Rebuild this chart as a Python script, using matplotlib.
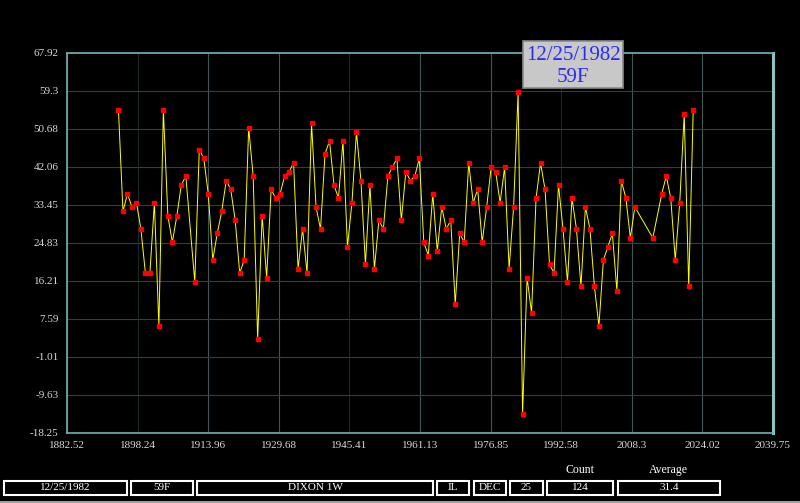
import numpy as np
import matplotlib
matplotlib.use("Agg")
import matplotlib.pyplot as plt
from matplotlib.patches import Rectangle

plt.rcParams['font.family'] = ['Liberation Serif', 'DejaVu Serif']

# Christmas day high temps, Dixon 1W IL
missing = (1909, 2009, 2010, 2011, 2013)
years = [y for y in range(1893, 2022) if y not in missing]
temps = [55, 32, 36, 33, 34, 28, 18, 18, 34, 6, 55, 31, 25, 31, 38, 40, 16, 46, 44, 36,
         21, 27, 32, 39, 37, 30, 18, 21, 51, 40,
         3, 31, 17, 37, 35, 36, 40, 41, 43, 19, 28, 18, 52, 33, 28, 45, 48, 38, 35, 48,
         24, 34, 50, 39, 20, 38, 19, 30, 28, 40, 42, 44,
         30, 41, 39, 40, 44, 25, 22, 36, 23, 33, 28, 30, 11, 27, 25, 43, 34, 37, 25, 33,
         42, 41, 34, 42, 19, 33, 59, -14, 17, 9, 35, 43, 37,
         20, 18, 38, 28, 16, 35, 28, 15, 33, 28, 15, 6, 21, 24, 27, 14, 39, 35, 26, 33,
         26, 36, 40, 35, 21, 34, 54, 15, 55]

xlabels = ['1882.52', '1898.24', '1913.96', '1929.68', '1945.41', '1961.13',
           '1976.85', '1992.58', '2008.3', '2024.02', '2039.75']
ylabels = ['-18.25', '-9.63', '-1.01', '7.59', '16.21', '24.83',
           '33.45', '42.06', '50.68', '59.3', '67.92']

# footer fields
fields = ['12/25/1982', '59F', 'DIXON 1W', 'IL', 'DEC', '25', '124', '31.4']
tip_date = '12/25/1982'
tip_temp = '59F'

# x position = year + fraction of year for Dec 25
xs = np.array(years) + 358 / 365.0

W, H = 800, 503
fig = plt.figure(figsize=(W / 100, H / 100), dpi=100, facecolor='black')
ax = fig.add_axes([67 / W, (H - 433) / H, 706 / W, 380 / H])
ax.set_facecolor('black')

ax.plot(xs, temps, color='#ffff00', lw=0.7, zorder=3)
ax.plot(xs, temps, ls='none', marker='s', ms=3.0, color='#ff0000', mec='#ff0000', zorder=4)

xmin, xmax = float(xlabels[0]), float(xlabels[-1])
ymin, ymax = float(ylabels[0]), float(ylabels[-1])
ax.set_xlim(xmin, xmax)
ax.set_ylim(ymin, ymax)
ax.set_xticks(np.linspace(xmin, xmax, len(xlabels)))
ax.set_xticklabels(xlabels)
ax.set_yticks(np.linspace(ymin, ymax, len(ylabels)))
ax.set_yticklabels(ylabels)
ax.tick_params(length=0, colors='#d8d8d8', labelsize=8)
ax.tick_params(axis='x', pad=6)
ax.tick_params(axis='y', pad=6)

ax.grid(True, color='#2c4242', lw=0.8)
for i, g in enumerate(ax.get_xgridlines()):
    g.set_color('#182828' if i % 3 == 1 else '#3e5858')
for s in ax.spines.values():
    s.set_color('#6fb0b0')
    s.set_linewidth(1.2)
ax.spines['right'].set_linewidth(2.2)
ax.spines['right'].set_color('#8cc4c4')

# tooltip box
fig.patches.append(Rectangle((523 / W, (H - 88) / H), 100 / W, 47 / H, transform=fig.transFigure,
                             facecolor='#c8c8c8', edgecolor='#8a8a8a', lw=1.2, zorder=5))
fig.text(573 / W, 1 - 55 / H, tip_date, color='#2a2aff', fontsize=15, ha='center', va='center', zorder=6)
fig.text(573 / W, 1 - 77 / H, tip_temp, color='#2a2aff', fontsize=15, ha='center', va='center', zorder=6)

# footer boxes
boxes = [(4, 127), (131, 193), (197, 433), (437, 469), (474, 506), (510, 543), (547, 613), (618, 720)]
for (x0, x1), txt in zip(boxes, fields):
    fig.patches.append(Rectangle((x0 / W, (H - 495) / H), (x1 - x0) / W, 14 / H, transform=fig.transFigure,
                                 facecolor='black', edgecolor='white', lw=1.5))
    fig.text((x0 + x1) / 2 / W, 1 - 488 / H, txt, color='white', fontsize=8, ha='center', va='center')
fig.text(580 / W, 1 - 470 / H, 'Count', color='white', fontsize=8.5, ha='center', va='center')
fig.text(668 / W, 1 - 470 / H, 'Average', color='white', fontsize=8.5, ha='center', va='center')
fig.patches.append(Rectangle((0, 0), 1, 2.5 / H, transform=fig.transFigure, facecolor='#a0a0a0', lw=0))

fig.savefig('out.png', dpi=100, facecolor='black')
